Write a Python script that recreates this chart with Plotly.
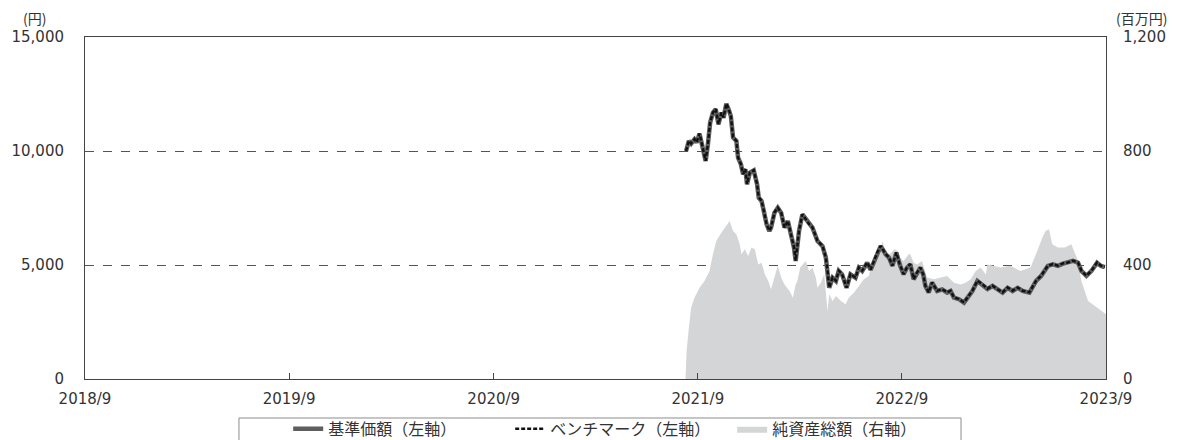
import plotly.graph_objects as go

# ---- data ----
price_dates = [
    "2021-08-11", "2021-08-16", "2021-08-20", "2021-08-26", "2021-08-30", "2021-09-04", "2021-09-09",
    "2021-09-15", "2021-09-19", "2021-09-23", "2021-09-28", "2021-10-03", "2021-10-08", "2021-10-13",
    "2021-10-17", "2021-10-22", "2021-10-26", "2021-10-30", "2021-11-03", "2021-11-09", "2021-11-12",
    "2021-11-17", "2021-11-21", "2021-11-25", "2021-11-28", "2021-12-03", "2021-12-10", "2021-12-16",
    "2021-12-19", "2021-12-24", "2021-12-28", "2022-01-02", "2022-01-07", "2022-01-10", "2022-01-16",
    "2022-01-22", "2022-01-28", "2022-02-03", "2022-02-09", "2022-02-15", "2022-02-20", "2022-02-23",
    "2022-03-01", "2022-03-07", "2022-03-13", "2022-03-19", "2022-03-25", "2022-04-03", "2022-04-12",
    "2022-04-18", "2022-04-21", "2022-04-24", "2022-04-30", "2022-05-06", "2022-05-11", "2022-05-17",
    "2022-05-25", "2022-06-01", "2022-06-10", "2022-06-16", "2022-06-22", "2022-07-01", "2022-07-07",
    "2022-07-13", "2022-07-19", "2022-07-25", "2022-08-03", "2022-08-09", "2022-08-15", "2022-08-22",
    "2022-08-28", "2022-09-04", "2022-09-10", "2022-09-16", "2022-09-22", "2022-09-28", "2022-10-04",
    "2022-10-09", "2022-10-13", "2022-10-19", "2022-10-25", "2022-11-03", "2022-11-12", "2022-11-21",
    "2022-11-27", "2022-12-03", "2022-12-12", "2022-12-21", "2022-12-27", "2023-01-05", "2023-01-14",
    "2023-01-23", "2023-02-01", "2023-02-10", "2023-02-19", "2023-02-28", "2023-03-09", "2023-03-18",
    "2023-03-27", "2023-04-05", "2023-04-17", "2023-04-23", "2023-04-29", "2023-05-08", "2023-05-14",
    "2023-05-20", "2023-05-29", "2023-06-07", "2023-06-16", "2023-06-25", "2023-07-04", "2023-07-13",
    "2023-07-19", "2023-07-28", "2023-08-06", "2023-08-16", "2023-08-23", "2023-08-30",
]
nav_price = [
    10000, 10440, 10320, 10510, 10370, 10760, 10220,
    9560, 10290, 11240, 11680, 11830, 11170, 11680,
    11460, 12070, 11830, 11540, 10590, 10440, 9710,
    9420, 8980, 9200, 8540, 9050, 9150, 8540,
    7950, 7810, 7370, 6780, 6490, 6640, 7290,
    7510, 7290, 6640, 6930, 6350, 5760, 5180,
    6490, 7220, 7000, 6780, 6640, 6050, 5830,
    5320, 4740, 4000, 4440, 4300, 4740, 4590,
    4000, 4590, 4440, 4880, 4740, 5100, 4790,
    5180, 5540, 5830, 5470, 5320, 4960, 5540,
    5030, 4590, 4880, 5030, 4370, 4660, 4880,
    4590, 4080, 3790, 4230, 3860, 3930, 3790,
    3860, 3570, 3500, 3350, 3570, 3860, 4300,
    4150, 3950, 4080, 3930, 3790, 4000, 3860,
    4000, 3860, 3790, 4080, 4300, 4520, 4740,
    4960, 5030, 4960, 5060, 5100, 5180, 5100,
    4740, 4520, 4740, 5100, 4960, 4910,
]
benchmark = [
    10000, 10450, 10330, 10520, 10380, 10770, 10230,
    9570, 10300, 11250, 11690, 11840, 11180, 11690,
    11470, 12080, 11840, 11550, 10600, 10450, 9720,
    9430, 8990, 9210, 8550, 9060, 9160, 8550,
    7960, 7820, 7380, 6790, 6500, 6650, 7300,
    7520, 7300, 6650, 6940, 6360, 5770, 5190,
    6500, 7230, 7010, 6790, 6650, 6060, 5840,
    5330, 4750, 4010, 4450, 4310, 4750, 4600,
    4010, 4600, 4450, 4890, 4750, 5110, 4800,
    5190, 5550, 5840, 5480, 5330, 4970, 5550,
    5040, 4600, 4890, 5040, 4380, 4670, 4890,
    4600, 4090, 3800, 4240, 3870, 3940, 3800,
    3870, 3580, 3510, 3360, 3580, 3870, 4310,
    4160, 3960, 4090, 3940, 3800, 4010, 3870,
    4010, 3870, 3800, 4090, 4310, 4530, 4750,
    4970, 5040, 4970, 5070, 5110, 5190, 5110,
    4750, 4530, 4750, 5110, 4970, 4920,
]

asset_dates = [
    "2021-08-10", "2021-08-12", "2021-08-16", "2021-08-20", "2021-08-26", "2021-09-04", "2021-09-13",
    "2021-09-22", "2021-09-28", "2021-10-04", "2021-10-13", "2021-10-22", "2021-10-28", "2021-11-03",
    "2021-11-09", "2021-11-15", "2021-11-18", "2021-11-24", "2021-11-30", "2021-12-06", "2021-12-12",
    "2021-12-18", "2021-12-24", "2021-12-30", "2022-01-05", "2022-01-10", "2022-01-16", "2022-01-22",
    "2022-01-28", "2022-02-03", "2022-02-12", "2022-02-18", "2022-02-23", "2022-02-26", "2022-03-03",
    "2022-03-13", "2022-03-19", "2022-03-25", "2022-03-31", "2022-04-03", "2022-04-09", "2022-04-15",
    "2022-04-21", "2022-04-24", "2022-04-30", "2022-05-06", "2022-05-15", "2022-05-23", "2022-05-29",
    "2022-06-07", "2022-06-16", "2022-06-25", "2022-07-04", "2022-07-07", "2022-07-13", "2022-07-23",
    "2022-07-29", "2022-08-01", "2022-08-10", "2022-08-19", "2022-08-25", "2022-08-28", "2022-09-04",
    "2022-09-13", "2022-09-16", "2022-09-22", "2022-09-28", "2022-10-07", "2022-10-16", "2022-10-28",
    "2022-11-09", "2022-11-21", "2022-12-03", "2022-12-15", "2022-12-24", "2023-01-02", "2023-01-11",
    "2023-01-20", "2023-01-29", "2023-02-01", "2023-02-25", "2023-03-14", "2023-04-01", "2023-04-19",
    "2023-05-01", "2023-05-10", "2023-05-16", "2023-05-22", "2023-05-28", "2023-06-07", "2023-06-19",
    "2023-07-01", "2023-07-13", "2023-07-19", "2023-07-31", "2023-08-12", "2023-08-24", "2023-09-01",
]
net_assets = [
    0, 100, 180, 250, 285, 320, 344,
    379, 438, 484, 513, 537, 554, 519,
    508, 473, 438, 455, 432, 461, 455,
    402, 408, 367, 344, 315, 361, 397,
    356, 332, 309, 285, 332, 344, 391,
    414, 379, 391, 356, 320, 338, 367,
    239, 297, 274, 291, 274, 262, 285,
    303, 326, 350, 361, 390, 400, 455,
    484, 438, 438, 455, 449, 426, 414,
    438, 438, 408, 402, 414, 356, 350,
    356, 361, 338, 332, 338, 350, 379,
    391, 367, 402, 391, 397, 379, 391,
    449, 496, 519, 525, 473, 461, 461,
    473, 414, 344, 274, 256, 239, 227,
]

x_tick_vals = ["2018-09-01", "2019-09-01", "2020-09-01", "2021-09-01", "2022-09-01", "2023-09-01"]
x_tick_text = ["2018/9", "2019/9", "2020/9", "2021/9", "2022/9", "2023/9"]
left_ticks = [0, 5000, 10000, 15000]
right_ticks = [0, 400, 800, 1200]

FONT = "DejaVu Sans, Noto Sans CJK JP"
CJK = "Noto Sans CJK JP"
TXT = "#333333"

fig = go.Figure()

# area (net assets) on primary axis so it is drawn beneath the lines
fig.add_trace(go.Scatter(
    x=asset_dates, y=net_assets, name="純資産総額（右軸）",
    mode="lines", line=dict(width=0, color="#d4d5d7"),
    fill="tozeroy", fillcolor="#d4d5d7", yaxis="y", legendrank=3,
))
fig.add_trace(go.Scatter(
    x=price_dates, y=nav_price, name="基準価額（左軸）",
    mode="lines", line=dict(width=4.5, color="#5e5e5e"), yaxis="y2", legendrank=1,
))
fig.add_trace(go.Scatter(
    x=price_dates, y=benchmark, name="ベンチマーク（左軸）",
    mode="lines", line=dict(width=2.4, color="#111111", dash="4px,2px"), yaxis="y2", legendrank=2,
))

fig.update_layout(
    width=1170, height=432,
    margin=dict(l=77, r=72, t=29, b=61, autoexpand=False),
    paper_bgcolor="white", plot_bgcolor="white",
    font=dict(family=FONT, size=15, color=TXT),
    showlegend=True,
    legend=dict(
        orientation="h", x=0.199, xanchor="left", y=-0.096, yanchor="top",
        borderwidth=0, bgcolor="rgba(0,0,0,0)",
        font=dict(family=CJK, size=16, color=TXT),
        entrywidth=177, itemwidth=30, traceorder="normal",
    ),
    shapes=[
        dict(type="rect", xref="paper", yref="paper",
             x0=0.1508, x1=0.858, y0=-0.114, y1=-0.25,
             line=dict(color="#8c8c8c", width=1), fillcolor="rgba(0,0,0,0)", layer="above"),
    ],
    xaxis=dict(
        type="date", range=["2018-09-01", "2023-09-01"],
        tickvals=x_tick_vals, ticktext=x_tick_text,
        ticks="inside", ticklen=6, tickcolor="#444444", tickwidth=1,
        showline=True, linecolor="#444444", linewidth=1, mirror=True,
        showgrid=False, zeroline=False, ticklabelstandoff=6,
        tickfont=dict(family=FONT, size=15, color=TXT),
    ),
    yaxis=dict(
        side="right", range=[0, 1200], tickvals=right_ticks,
        tickformat=",", showgrid=True, gridcolor="#555555", griddash="dash", gridwidth=1,
        showline=True, linecolor="#444444", linewidth=1, zeroline=False,
        ticks="", ticklabelstandoff=13,
        tickfont=dict(family=FONT, size=15, color=TXT),
    ),
    yaxis2=dict(
        side="left", overlaying="y", range=[0, 15000], tickvals=left_ticks,
        tickformat=",", showgrid=False, zeroline=False,
        showline=True, linecolor="#444444", linewidth=1,
        ticks="", ticklabelstandoff=17,
        tickfont=dict(family=FONT, size=15, color=TXT),
    ),
    annotations=[
        dict(text="(円)", xref="paper", yref="paper", x=-0.049, y=1.0, yshift=19,
             xanchor="center", yanchor="middle", showarrow=False,
             font=dict(family=CJK, size=14, color=TXT)),
        dict(text="(百万円)", xref="paper", yref="paper", x=1.035, y=1.0, yshift=19,
             xanchor="center", yanchor="middle", showarrow=False,
             font=dict(family=CJK, size=14, color=TXT)),
    ],
)

fig.write_html("out.html")
